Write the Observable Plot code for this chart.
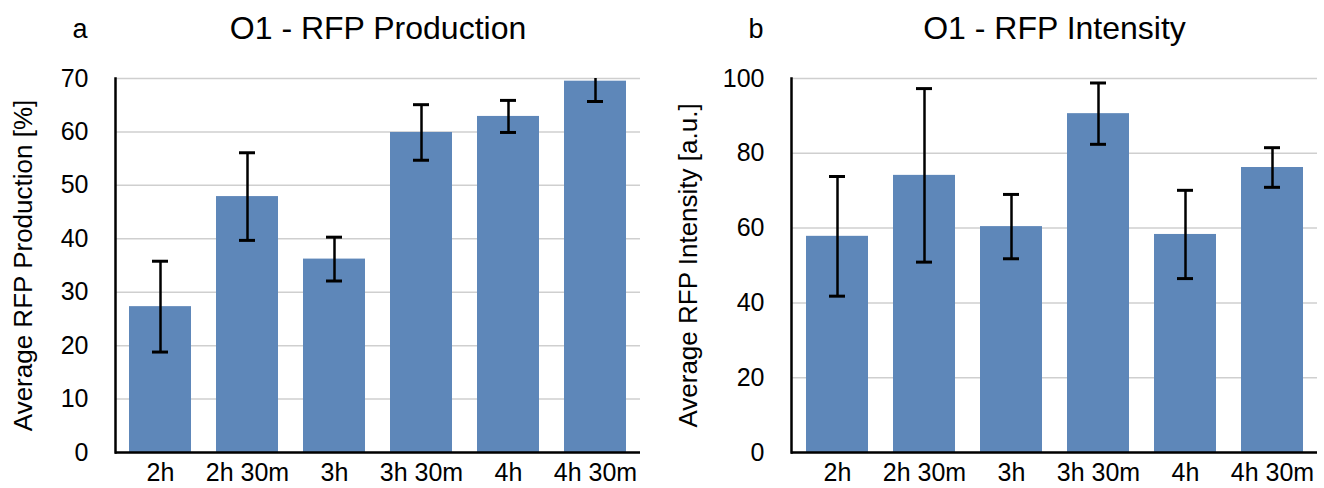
<!DOCTYPE html>
<html>
<head>
<meta charset="utf-8">
<script src="https://cdn.jsdelivr.net/npm/d3@7"></script>
<script src="https://cdn.jsdelivr.net/npm/@observablehq/plot@0.6"></script>
<style>
  html, body { margin: 0; padding: 0; background: #fff; }
  #wrap { display: flex; flex-direction: row; width: 1324px; height: 488px; }
  svg { font-family: "Liberation Sans", Arial, Helvetica, sans-serif; }
</style>
</head>
<body>
<div id="wrap"></div>
<script>
// ---- data ----
const categories = ["2h", "2h 30m", "3h", "3h 30m", "4h", "4h 30m"];
const production = [27.3, 47.9, 36.2, 59.9, 62.9, 69.5];
const productionErr = [8.5, 8.2, 4.1, 5.2, 3.0, 3.8];
const intensity = [57.8, 74.1, 60.4, 90.6, 58.3, 76.2];
const intensityErr = [16.0, 23.2, 8.6, 8.2, 11.8, 5.3];
const productionTicks = [0, 10, 20, 30, 40, 50, 60, 70];
const intensityTicks = [0, 20, 40, 60, 80, 100];

const barColor = "#5e87b9";

function panel({letter, title, ylabel, values, errors, ticks, yMax, marginLeft, marginRight, labelDx}) {
  const data = categories.map((c, i) => ({cat: c, v: values[i], e: errors[i]}));
  return Plot.plot({
    width: 662,
    height: 488,
    marginLeft,
    marginRight,
    marginTop: 78,
    marginBottom: 36,
    style: {fontFamily: "Liberation Sans, Arial, sans-serif", fontSize: "25px", color: "#000", background: "#fff", overflow: "visible"},
    x: {domain: categories, paddingInner: 0.29, paddingOuter: 0.145, label: null, tickSize: 0, tickPadding: 11},
    y: {domain: [0, yMax], ticks, label: null, tickSize: 0, tickPadding: 27},
    marks: [
      Plot.gridY(ticks, {stroke: "#cfcfcf", strokeOpacity: 1, strokeWidth: 1.5}),
      Plot.barY(data, {x: "cat", y: "v", fill: barColor}),
      Plot.ruleX(data, {x: "cat", y1: d => d.v - d.e, y2: d => d.v + d.e, stroke: "#000", strokeWidth: 2.5, clip: true}),
      Plot.tickY(data, {x: "cat", y: d => d.v - d.e, stroke: "#000", strokeWidth: 3, insetLeft: 23, insetRight: 23, clip: true}),
      Plot.tickY(data, {x: "cat", y: d => d.v + d.e, stroke: "#000", strokeWidth: 3, insetLeft: 23, insetRight: 23, clip: true}),
      Plot.ruleY([0], {stroke: "#000", strokeWidth: 2.5}),
      Plot.frame({anchor: "left", stroke: "#000", strokeWidth: 2.5}),
      Plot.text([title], {frameAnchor: "top", dy: -50, lineAnchor: "middle", fontSize: 32, fill: "#000"}),
      Plot.text([letter], {frameAnchor: "top-left", dx: -43, dy: -41, lineAnchor: "bottom", fontSize: 27, fill: "#000"}),
      Plot.text([ylabel], {frameAnchor: "left", dx: labelDx, rotate: -90, textAnchor: "middle", lineAnchor: "middle", fontSize: 26, fill: "#000"})
    ]
  });
}

const wrap = document.getElementById("wrap");
wrap.appendChild(panel({
  letter: "a",
  title: "O1 - RFP Production",
  ylabel: "Average RFP Production [%]",
  values: production,
  errors: productionErr,
  ticks: productionTicks,
  yMax: 70,
  marginLeft: 115,
  marginRight: 22,
  labelDx: -92
}));
wrap.appendChild(panel({
  letter: "b",
  title: "O1 - RFP Intensity",
  ylabel: "Average RFP Intensity [a.u.]",
  values: intensity,
  errors: intensityErr,
  ticks: intensityTicks,
  yMax: 100,
  marginLeft: 129,
  marginRight: 7,
  labelDx: -103
}));
</script>
</body>
</html>
